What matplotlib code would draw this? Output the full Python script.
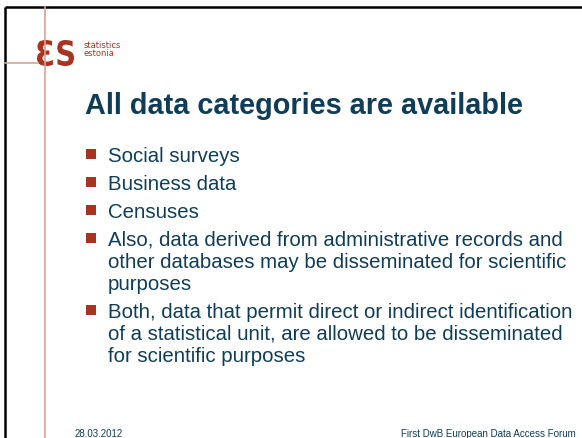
import matplotlib.pyplot as plt
from matplotlib.textpath import TextPath
from matplotlib.patches import PathPatch
from matplotlib.font_manager import FontProperties
from matplotlib.transforms import Affine2D

# slide content
title = "All data categories are available"
bullets = [
    ["Social surveys"],
    ["Business data"],
    ["Censuses"],
    ["Also, data derived from administrative records and",
     "other databases may be disseminated for scientific",
     "purposes"],
    ["Both, data that permit direct or indirect identification",
     "of a statistical unit, are allowed to be disseminated",
     "for scientific purposes"],
]
footer_left = "28.03.2012"
footer_right = "First DwB European Data Access Forum"
logo_text = "ƐS"
logo_sub = ["statistics", "estonia"]

TEXT = "#0f3d58"
RED = "#a93321"
LINE = "#d9a396"

fig = plt.figure(figsize=(5.82, 4.39), dpi=100)
ax = fig.add_axes([0, 0, 1, 1])
ax.set_xlim(0, 582)
ax.set_ylim(439, 0)
ax.axis("off")

# frame lines
ax.plot([5, 582], [8, 8], color="black", lw=1.8, solid_capstyle="butt")
ax.plot([5, 5], [8, 439], color="black", lw=1.8, solid_capstyle="butt")
ax.plot([45, 45], [8, 439], color=LINE, lw=1.2)
ax.plot([5, 38], [64, 64], color=LINE, lw=1.2)

# logo: letters squeezed into a tall narrow box
tp = TextPath((0, 0), logo_text, size=1,
              prop=FontProperties(family="DejaVu Sans", weight="bold"))
ext = tp.get_extents()
tr = (Affine2D().translate(-ext.x0, -ext.y0)
      .scale(37 / ext.width, -26 / ext.height).translate(37, 67))
ax.add_patch(PathPatch(tr.transform_path(tp), color=RED, lw=0))
for i, s in enumerate(logo_sub):
    ax.text(84, 48 + i * 7.5, s, color=RED, fontsize=6,
            family="DejaVu Sans", va="baseline")

# title
ax.text(85, 114, title, color=TEXT, fontsize=20.8, fontweight="bold",
        family="Liberation Sans", va="baseline")

# bullets
y = 162
for item in bullets:
    ax.add_patch(plt.Rectangle((86, y - 12), 10, 10, color=RED, lw=0))
    for line in item:
        ax.text(108, y, line, color=TEXT, fontsize=14.7,
                family="Liberation Sans", va="baseline")
        y += 22
    y += 6

# footer
ax.text(75, 437, footer_left, color=TEXT, fontsize=7,
        family="Liberation Sans", va="baseline")
ax.text(576, 437, footer_right, color=TEXT, fontsize=7,
        family="Liberation Sans", va="baseline", ha="right")

fig.savefig("out.png", dpi=100)
